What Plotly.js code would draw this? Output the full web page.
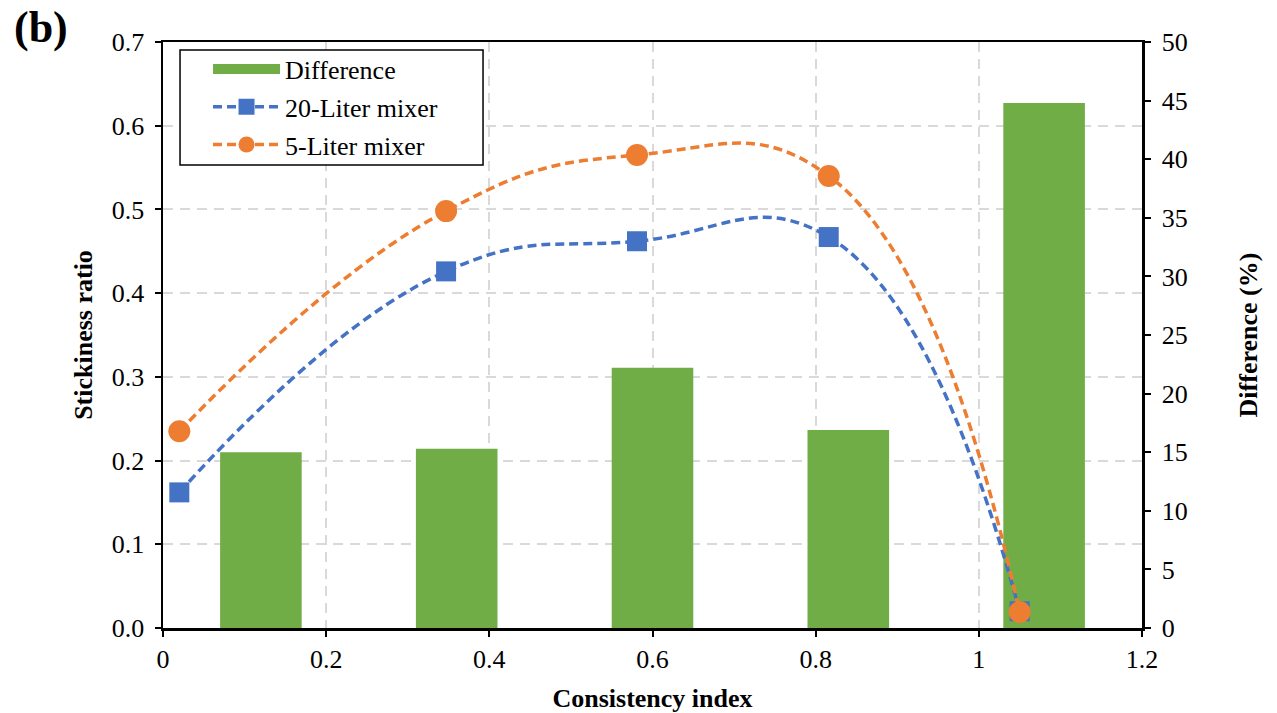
<!DOCTYPE html>
<html>
<head>
<meta charset="utf-8">
<script src="https://cdn.plot.ly/plotly-3.0.1.min.js"></script>
<style>
html,body{margin:0;padding:0;background:#fff;}
#chart{width:1277px;height:713px;}
</style>
</head>
<body>
<div id="chart"></div>
<script>
// Data
const pointX = [0.02, 0.347, 0.581, 0.816, 1.05];
const liter20 = [0.162, 0.426, 0.462, 0.467, 0.020];
const liter5 = [0.235, 0.498, 0.565, 0.540, 0.019];
const barX = [0.12, 0.36, 0.60, 0.84, 1.08];
const difference = [15.0, 15.3, 22.2, 16.9, 44.8];
const xTicks = [0, 0.2, 0.4, 0.6, 0.8, 1.0, 1.2];
const seriesNames = ['Difference', '20-Liter mixer', '5-Liter mixer'];

const FONT = 'Liberation Serif, Times New Roman, serif';
const GREEN = '#70AD47', BLUE = '#4472C4', ORANGE = '#ED7D31';

const traces = [
  {
    type: 'bar', x: barX, y: difference, name: seriesNames[0],
    width: 0.1, marker: {color: GREEN}, yaxis: 'y', showlegend: false
  },
  { // legend entry for the bars (wide green swatch)
    type: 'scatter', mode: 'lines', x: [null], y: [null], name: seriesNames[0],
    yaxis: 'y', legendgroup: 'a', line: {color: GREEN, width: 14}
  },
  {
    type: 'scatter', mode: 'lines+markers', x: pointX, y: liter20, name: seriesNames[1],
    yaxis: 'y2', legendgroup: 'b',
    line: {color: BLUE, width: 3.5, dash: '9px,5px', shape: 'spline', smoothing: 1.3},
    marker: {symbol: 'square', size: 20, color: BLUE}
  },
  {
    type: 'scatter', mode: 'lines+markers', x: pointX, y: liter5, name: seriesNames[2],
    yaxis: 'y2', legendgroup: 'c',
    line: {color: ORANGE, width: 3.5, dash: '9px,5px', shape: 'spline', smoothing: 1.3},
    marker: {symbol: 'circle', size: 22, color: ORANGE}
  }
];

const layout = {
  width: 1277, height: 713,
  margin: {l: 163, r: 135, t: 42, b: 85},
  paper_bgcolor: '#fff', plot_bgcolor: '#fff',
  font: {family: FONT, size: 26, color: '#000'},
  showlegend: true,
  legend: {
    x: 0.046, y: 0.994, xanchor: 'left', yanchor: 'top',
    bgcolor: 'rgba(0,0,0,0)', borderwidth: 0,
    font: {family: FONT, size: 26, color: '#000'},
    itemwidth: 67, traceorder: 'grouped', tracegroupgap: 1
  },
  shapes: [{
    type: 'rect', xref: 'paper', yref: 'paper',
    x0: 0.0174, x1: 0.3269, y0: 0.790, y1: 0.9863,
    line: {color: '#000', width: 1.5}, fillcolor: '#fff', layer: 'above'
  }],
  xaxis: {
    range: [0, 1.2], tickvals: xTicks, ticks: 'outside', ticklen: 6, tickwidth: 2, tickcolor: '#000',
    showline: true, linecolor: '#000', linewidth: 2.5, mirror: true,
    showgrid: true, gridcolor: '#d9d9d9', gridwidth: 2, griddash: '10px,7px',
    zeroline: false, tickfont: {family: FONT, size: 26},
    title: {text: '<b>Consistency index</b>', font: {family: FONT, size: 26}, standoff: 18}
  },
  yaxis: {
    range: [0, 50], dtick: 5, side: 'right', ticks: 'outside', ticklen: 6, tickwidth: 2, tickcolor: '#000',
    showline: true, linecolor: '#000', linewidth: 2.5, showgrid: false, zeroline: false,
    tickfont: {family: FONT, size: 26}, ticklabelstandoff: 6,
    title: {text: '<b>Difference (%)</b>', font: {family: FONT, size: 26}, standoff: 52}
  },
  yaxis2: {
    range: [0, 0.7], dtick: 0.1, tickformat: '.1f', side: 'left', overlaying: 'y',
    ticks: 'outside', ticklen: 6, tickwidth: 2, tickcolor: '#000',
    showline: true, linecolor: '#000', linewidth: 2.5,
    showgrid: true, gridcolor: '#d9d9d9', gridwidth: 2, griddash: '10px,7px', zeroline: false,
    tickfont: {family: FONT, size: 26}, ticklabelstandoff: 5,
    title: {text: '<b>Stickiness ratio</b>', font: {family: FONT, size: 26}, standoff: 12}
  },
  annotations: [{
    xref: 'paper', yref: 'paper', x: -0.125, y: 1.024, xanchor: 'center', yanchor: 'middle',
    text: '<b>(b)</b>', showarrow: false, font: {family: FONT, size: 44, color: '#000'}
  }]
};

Plotly.newPlot('chart', traces, layout, {displayModeBar: false, staticPlot: true});
</script>
</body>
</html>
